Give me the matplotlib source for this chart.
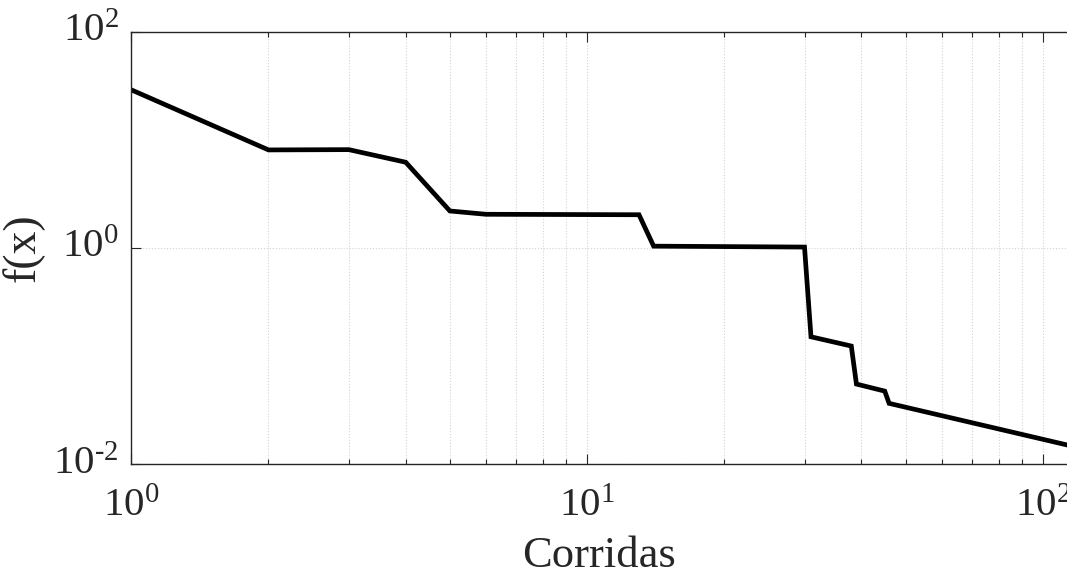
import matplotlib
matplotlib.use("Agg")
import matplotlib.pyplot as plt
from matplotlib.ticker import FixedLocator, FixedFormatter, NullFormatter

# mejor valor de f(x) por corrida (vertices de la curva)
runs = [1, 2, 3, 4, 5, 6, 13, 14, 30, 31, 38, 39, 45, 46, 113]
best = [29.0, 8.07, 8.12, 6.21, 2.20, 2.05, 2.03, 1.04, 1.02,
        0.151, 0.124, 0.0552, 0.0475, 0.0366, 0.0151]

x_major = [1, 10, 100]
x_major_labels = ['$10^{0}$', '$10^{1}$', '$10^{2}$']
x_minor = [2, 3, 4, 5, 6, 7, 8, 9, 20, 30, 40, 50, 60, 70, 80, 90]
y_major = [1e-2, 1e0, 1e2]
y_major_labels = ['$10^{\u20102}$', '$10^{0}$', '$10^{2}$']

plt.rcParams['font.family'] = ['Liberation Serif', 'DejaVu Serif']
plt.rcParams['mathtext.fontset'] = 'custom'
plt.rcParams['mathtext.rm'] = 'Liberation Serif'
plt.rcParams['mathtext.it'] = 'Liberation Serif:italic'

dark = '#262626'

fig = plt.figure(figsize=(10.67, 5.74), dpi=100)
ax = fig.add_axes([131.3 / 1067, 1 - 464.3 / 574, (1067 - 131.3) / 1067, (464.3 - 31.7) / 574])

ax.plot(runs, best, color='black', lw=3.4, solid_joinstyle='miter')
ax.set_xscale('log')
ax.set_yscale('log')
ax.set_xlim(1, 113)
ax.set_ylim(1e-2, 1e2)

ax.xaxis.set_major_locator(FixedLocator(x_major))
ax.xaxis.set_major_formatter(FixedFormatter(x_major_labels))
ax.xaxis.set_minor_locator(FixedLocator(x_minor))
ax.xaxis.set_minor_formatter(NullFormatter())
ax.yaxis.set_major_locator(FixedLocator(y_major))
ax.yaxis.set_major_formatter(FixedFormatter(y_major_labels))
ax.yaxis.set_minor_locator(FixedLocator([]))

ax.tick_params(which='both', direction='in', top=True, right=False, color=dark,
               labelcolor=dark, labelsize=29.5, width=0.8)
ax.tick_params(which='major', length=7)
ax.tick_params(which='minor', length=3.5)
ax.tick_params(axis='x', pad=17)
ax.tick_params(axis='y', pad=9)
for lab in ax.get_yticklabels():
    lab.set_verticalalignment('center')

ax.grid(True, which='both', axis='x', linestyle=':', color='#d4d4d4', lw=0.8)
ax.grid(True, which='major', axis='y', linestyle=':', color='#d4d4d4', lw=0.8)
ax.set_axisbelow(True)

for side in ['left', 'top', 'bottom']:
    ax.spines[side].set_color(dark)
    ax.spines[side].set_linewidth(1.0)
ax.spines['right'].set_visible(False)

ax.set_xlabel('Corridas', fontsize=32, color=dark, labelpad=8)
ax.set_ylabel('f(x)', fontsize=33, color=dark, labelpad=6)

fig.savefig('out.png', dpi=100)
